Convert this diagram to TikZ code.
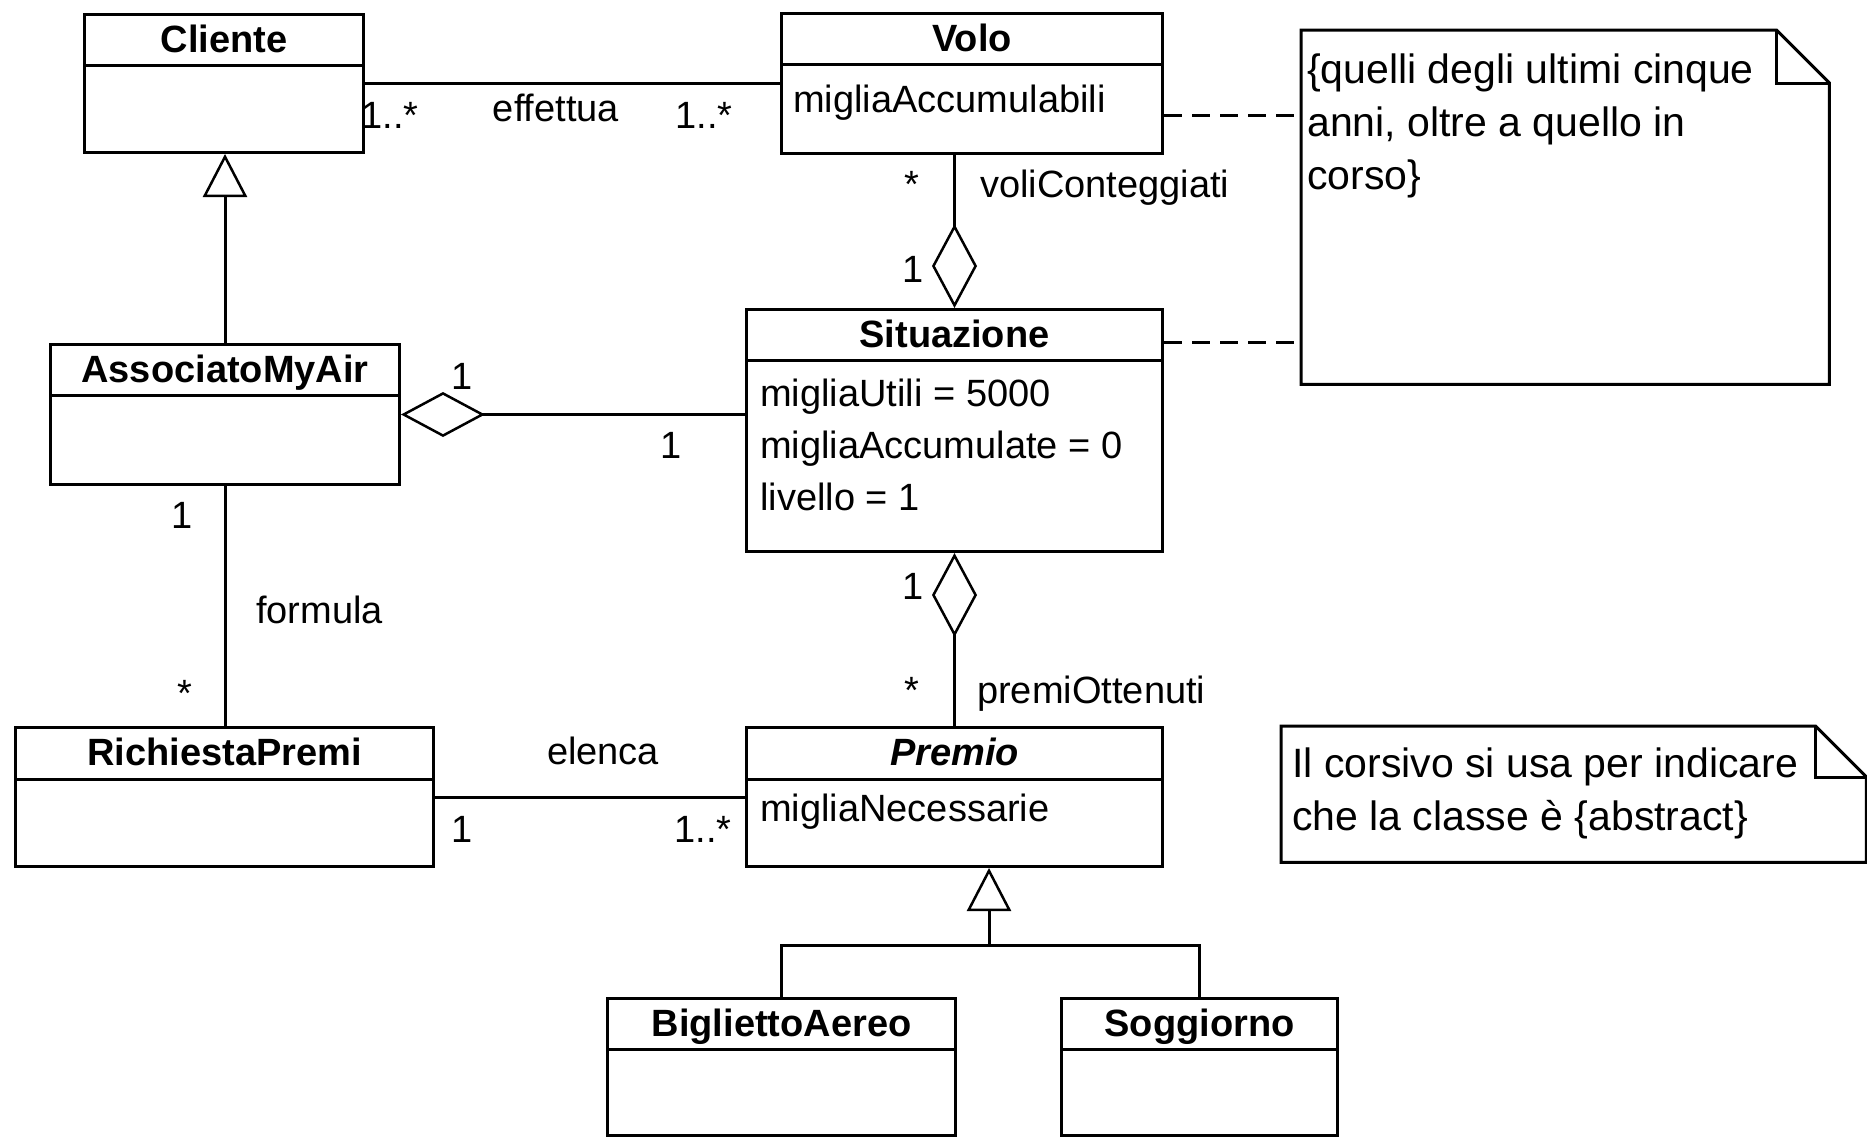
\documentclass[tikz,border=0pt]{standalone}
\usepackage{fontspec}
\setmainfont{Liberation Sans}
\usepackage{tikz}
\usetikzlibrary{arrows.meta,positioning}

\begin{document}
\begin{tikzpicture}[x=1pt,y=-1pt,
    classbox/.style={draw, line width=3pt, anchor=north west, inner sep=0pt},
    txt/.style={inner sep=0pt, text height=27pt, text depth=8pt, font=\fontsize{38}{46}\selectfont},
    classname/.style={txt, font=\fontsize{38}{46}\selectfont\bfseries},
    attr/.style={txt, anchor=west},
    notetext/.style={txt, anchor=west, font=\fontsize{41}{48}\selectfont},
    notebox/.style={anchor=north west, inner sep=0pt},
    assocline/.style={line width=3pt},
    aggrline/.style={line width=3pt, -{Diamond[open, length=84pt, width=45pt, line width=2.5pt]}},
    genline/.style={line width=3pt, -{Triangle[open, length=43pt, width=44pt, line width=2.5pt]}},
    notelink/.style={line width=3pt, dash pattern=on 18pt off 10pt}]
    \useasboundingbox (0,0) rectangle (1867,1136);

    % Cliente
    \node[classbox, minimum width=279pt, minimum height=138pt] (cliente) at (83,13) {};
    \node[classname] (clienteT) at ([yshift=-29.5pt]cliente.north) {Cliente};
    \draw[line width=3pt] ([yshift=-52pt]cliente.north west) -- ([yshift=-52pt]cliente.north east);

    % Volo
    \node[classbox, minimum width=381pt, minimum height=140pt] (volo) at (780,12) {};
    \node[classname] (voloT) at ([yshift=-29.5pt]volo.north) {Volo};
    \draw[line width=3pt] ([yshift=-52pt]volo.north west) -- ([yshift=-52pt]volo.north east);
    \node[attr] (voloA) at (793,103) {migliaAccumulabili};

    % AssociatoMyAir
    \node[classbox, minimum width=349pt, minimum height=140pt] (associato) at (49,343) {};
    \node[classname] (associatoT) at ([yshift=-29.5pt]associato.north) {AssociatoMyAir};
    \draw[line width=3pt] ([yshift=-52pt]associato.north west) -- ([yshift=-52pt]associato.north east);

    % Situazione
    \node[classbox, minimum width=416pt, minimum height=242pt] (situazione) at (745,308) {};
    \node[classname] (situazioneT) at ([yshift=-29.5pt]situazione.north) {Situazione};
    \draw[line width=3pt] ([yshift=-52pt]situazione.north west) -- ([yshift=-52pt]situazione.north east);
    \node[attr] (situazioneA) at (760,397) {migliaUtili = 5000};
    \node[attr] (situazioneB) at (760,449) {migliaAccumulate = 0};
    \node[attr] (situazioneC) at (760,501) {livello = 1};

    % RichiestaPremi
    \node[classbox, minimum width=418pt, minimum height=139pt] (richiesta) at (14,726) {};
    \node[classname] (richiestaT) at ([yshift=-29.5pt]richiesta.north) {RichiestaPremi};
    \draw[line width=3pt] ([yshift=-53pt]richiesta.north west) -- ([yshift=-53pt]richiesta.north east);

    % Premio (astratta)
    \node[classbox, minimum width=416pt, minimum height=139pt] (premio) at (745,726) {};
    \node[classname, font=\fontsize{38}{46}\selectfont\bfseries\itshape] (premioT) at ([yshift=-29.5pt]premio.north) {Premio};
    \draw[line width=3pt] ([yshift=-53pt]premio.north west) -- ([yshift=-53pt]premio.north east);
    \node[attr] (premioA) at (760,812) {migliaNecessarie};

    % BigliettoAereo e Soggiorno
    \node[classbox, minimum width=348pt, minimum height=137pt] (biglietto) at (606,997) {};
    \node[classname] (bigliettoT) at ([yshift=-29.5pt]biglietto.north) {BigliettoAereo};
    \draw[line width=3pt] ([yshift=-52pt]biglietto.north west) -- ([yshift=-52pt]biglietto.north east);
    \node[classbox, minimum width=276pt, minimum height=137pt] (soggiorno) at (1060,997) {};
    \node[classname] (soggiornoT) at ([yshift=-29.5pt]soggiorno.north) {Soggiorno};
    \draw[line width=3pt] ([yshift=-52pt]soggiorno.north west) -- ([yshift=-52pt]soggiorno.north east);

    % Note
    \node[notebox, minimum width=528pt, minimum height=354pt] (nota1) at (1301,30) {};
    \draw[line width=3pt] (nota1.north west) -- ([xshift=-53pt]nota1.north east) -- ([yshift=-53pt]nota1.north east) -- (nota1.south east) -- (nota1.south west) -- cycle;
    \draw[line width=3pt] ([xshift=-53pt]nota1.north east) -- ([xshift=-53pt,yshift=-53pt]nota1.north east) -- ([yshift=-53pt]nota1.north east);
    \node[notetext] (nota1a) at (1307,74) {\{quelli degli ultimi cinque};
    \node[notetext] (nota1b) at (1307,127) {anni, oltre a quello in};
    \node[notetext] (nota1c) at (1307,180) {corso\}};

    \node[notebox, minimum width=585pt, minimum height=136pt] (nota2) at (1281,726) {};
    \draw[line width=3pt] (nota2.north west) -- ([xshift=-51pt]nota2.north east) -- ([yshift=-51pt]nota2.north east) -- (nota2.south east) -- (nota2.south west) -- cycle;
    \draw[line width=3pt] ([xshift=-51pt]nota2.north east) -- ([xshift=-51pt,yshift=-51pt]nota2.north east) -- ([yshift=-51pt]nota2.north east);
    \node[notetext] (nota2a) at (1292,768) {Il corsivo si usa per indicare};
    \node[notetext] (nota2b) at (1292,821) {che la classe è \{abstract\}};

    % effettua
    \draw[assocline] (cliente) -- (volo);
    \node[txt] (m1) at (390,119) {1..*};
    \node[txt] (effettua) at (556,112) {effettua};
    \node[txt] (m2) at (704,119) {1..*};

    % voliConteggiati
    \draw[aggrline] (volo.south -| situazione.north) -- (situazione.north);
    \node[txt] (m3) at (912,187.5) {*};
    \node[txt, anchor=west] (voliConteggiati) at (980,187.5) {voliConteggiati};
    \node[txt] (m4) at (913,272.5) {1};

    % AssociatoMyAir - Situazione
    \draw[aggrline] (situazione.west |- associato.east) -- (associato.east);
    \node[txt] (m5) at (462,380) {1};
    \node[txt] (m6) at (671,449) {1};

    % premiOttenuti
    \draw[aggrline] (premio.north) -- (situazione.south);
    \node[txt] (m7) at (913,589.5) {1};
    \node[txt] (m8) at (912,693.5) {*};
    \node[txt, anchor=west] (premiOttenuti) at (977,693.5) {premiOttenuti};

    % formula
    \draw[assocline] (associato.south) -- (associato.south |- richiesta.north);
    \node[txt] (m9) at (182,518.5) {1};
    \node[txt] (formula) at (319.5,613.5) {formula};
    \node[txt] (m10) at (185,697) {*};

    % elenca
    \draw[assocline] (richiesta.east) -- (premio.west);
    \node[txt] (elenca) at (603,754.5) {elenca};
    \node[txt] (m11) at (462,832.5) {1};
    \node[txt] (m12) at (703,832.5) {1..*};

    % Generalizzazioni
    \draw[genline] (associato.north) -- (associato.north |- cliente.south);
    \coordinate (genpremio) at (989,945);
    \draw[genline] (genpremio) -- (genpremio |- premio.south);
    \draw[assocline] (biglietto.north) |- (genpremio) -| (soggiorno.north);

    % Collegamenti alla nota
    \draw[notelink] ([yshift=-103pt]volo.north east) -- ([yshift=-103pt]volo.north east -| nota1.west);
    \draw[notelink] ([yshift=-34pt]situazione.north east) -- ([yshift=-34pt]situazione.north east -| nota1.west);
\end{tikzpicture}
\end{document}
